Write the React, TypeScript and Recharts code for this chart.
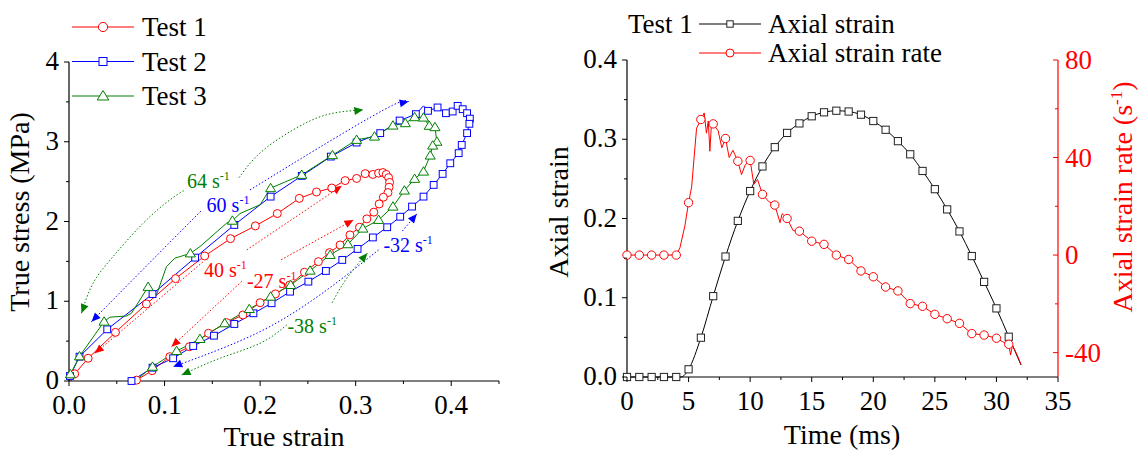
import React from "react";
import { ComposedChart, Line, XAxis, YAxis, ReferenceDot } from "recharts";

const FONT = "Liberation Serif";
const FS = { fontFamily: FONT };
const RED = "#ff0000";
const BLUE = "#0000ff";
const GREEN = "#008000";
const BLACK = "#000000";

// ---------- left panel: [true strain, true stress (MPa), symbol shown 1/0]
const test1 = [
  [0.002, 0, 0], [0.006, 0.09, 1], [0.02, 0.285, 1], [0.0486, 0.61, 1], [0.081, 0.966, 1],
  [0.1115, 1.284, 1], [0.142, 1.568, 1], [0.169, 1.785, 1], [0.195, 1.945, 1], [0.218, 2.1, 1],
  [0.241, 2.29, 1], [0.259, 2.37, 1], [0.275, 2.42, 1], [0.289, 2.513, 1], [0.301, 2.54, 1],
  [0.31, 2.6, 1], [0.318, 2.59, 1], [0.324, 2.606, 1], [0.3285, 2.614, 1], [0.332, 2.59, 1],
  [0.3345, 2.55, 1], [0.3355, 2.49, 1], [0.335, 2.43, 1], [0.3338, 2.363, 1], [0.329, 2.305, 1],
  [0.3246, 2.22, 1], [0.319, 2.117, 1], [0.3117, 2.033, 1], [0.304, 1.928, 1], [0.294, 1.832, 1],
  [0.2837, 1.706, 1], [0.2726, 1.61, 1], [0.261, 1.497, 1], [0.2464, 1.364, 1], [0.231, 1.204, 1],
  [0.216, 1.092, 1], [0.2, 0.982, 1], [0.182, 0.828, 1], [0.165, 0.732, 1], [0.146, 0.598, 1],
  [0.126, 0.43, 1], [0.1055, 0.305, 1], [0.087, 0.13, 1], [0.0706, 0.01, 1],
];
const test2 = [
  [0, 0, 0], [0.001, 0.063, 1], [0.011, 0.305, 1], [0.04, 0.648, 1], [0.0874, 1.09, 1],
  [0.132, 1.547, 1], [0.173, 1.957, 1], [0.211, 2.312, 1], [0.2436, 2.572, 1], [0.274, 2.814, 1],
  [0.301, 2.99, 1], [0.3257, 3.108, 1], [0.346, 3.266, 1], [0.363, 3.346, 1], [0.371, 3.45, 0],
  [0.3757, 3.388, 1], [0.3857, 3.43, 1], [0.3945, 3.358, 1], [0.4015, 3.379, 1], [0.4067, 3.45, 1],
  [0.412, 3.408, 1], [0.4166, 3.358, 1], [0.4195, 3.29, 1], [0.419, 3.225, 1], [0.4166, 3.108, 1],
  [0.411, 2.96, 1], [0.4078, 2.857, 1], [0.399, 2.73, 1], [0.391, 2.597, 1], [0.3816, 2.459, 1],
  [0.371, 2.312, 1], [0.359, 2.187, 1], [0.3466, 2.06, 1], [0.333, 1.928, 1], [0.318, 1.8, 1],
  [0.302, 1.656, 1], [0.286, 1.518, 1], [0.2688, 1.38, 1], [0.2505, 1.246, 1], [0.2313, 1.12, 1],
  [0.212, 0.975, 1], [0.193, 0.849, 1], [0.173, 0.715, 1], [0.1517, 0.568, 1], [0.13, 0.439, 1],
  [0.109, 0.285, 1], [0.0874, 0.167, 1], [0.0654, 0, 1],
];
const test3 = [
  [0, 0, 0], [0.0015, 0.084, 1], [0.011, 0.31, 1], [0.0367, 0.744, 1], [0.0427, 0.8, 0],
  [0.06, 0.815, 0], [0.0654, 0.85, 0], [0.0828, 1.18, 1], [0.0916, 1.08, 0], [0.102, 1.434, 0],
  [0.1108, 1.54, 0], [0.127, 1.6, 1], [0.137, 1.685, 0], [0.165, 1.98, 0], [0.171, 2.01, 1],
  [0.179, 2.1, 0], [0.2, 2.21, 0], [0.211, 2.418, 1], [0.2436, 2.585, 1], [0.2757, 2.832, 1],
  [0.301, 3.024, 1], [0.3197, 3.065, 1], [0.339, 3.203, 1], [0.352, 3.233, 1], [0.3617, 3.308, 1],
  [0.371, 3.303, 1], [0.377, 3.2, 1], [0.383, 3.183, 1], [0.385, 3.0, 1], [0.3806, 2.952, 1],
  [0.378, 2.827, 1], [0.371, 2.626, 1], [0.3617, 2.535, 1], [0.351, 2.388, 1], [0.339, 2.187, 1],
  [0.324, 2.02, 1], [0.3075, 1.911, 1], [0.2918, 1.715, 1], [0.2733, 1.581, 1], [0.2523, 1.384, 1],
  [0.232, 1.204, 1], [0.211, 1.058, 1], [0.1887, 0.903, 1], [0.163, 0.724, 1], [0.137, 0.527, 1],
  [0.1126, 0.376, 1], [0.0874, 0.179, 1], [0.069, 0, 0],
];
const testNames = ["Test 1", "Test 2", "Test 3"];
const rateLabels = ["64", "60", "40", "-27", "-32", "-38"];

const strainTicks = [0, 0.05, 0.1, 0.15, 0.2, 0.25, 0.3, 0.35, 0.4, 0.45];
const strainLabels = ["0.0", "", "0.1", "", "0.2", "", "0.3", "", "0.4", ""];
const stressTicks = [0, 0.5, 1, 1.5, 2, 2.5, 3, 3.5, 4];
const stressLabels = ["0", "", "1", "", "2", "", "3", "", "4"];

// ---------- right panel: Test 1 history
const timeMs = [0, 1, 2, 3, 4, 4.4, 5, 6, 7, 8, 9, 10, 11, 12, 13, 14, 15, 16, 17, 18, 19, 20, 21, 22, 23, 24, 25, 26, 27, 28, 29, 30, 31, 32];
const axialStrain = [0, 0, 0, 0, 0, 0, 0.0097, 0.0496, 0.102, 0.152, 0.197, 0.2346, 0.2657, 0.29, 0.308, 0.32, 0.329, 0.334, 0.336, 0.335, 0.331, 0.323, 0.312, 0.2976, 0.281, 0.26, 0.237, 0.2115, 0.1837, 0.1526, 0.12, 0.0866, 0.0508, 0.015];
const rateTimeMs = [0, 1, 2, 3, 4, 4.3, 4.7, 5, 5.25, 5.65, 6, 6.27, 6.45, 6.6, 6.73, 6.87, 7, 7.4, 7.7, 8, 8.3, 8.6, 9, 9.3, 9.6, 10, 10.3, 10.6, 11, 11.5, 12, 12.43, 12.6, 13, 13.5, 14, 15, 16, 17, 18, 19, 20, 21, 22, 23, 24, 25, 26, 27, 28, 29, 30, 30.5, 31, 31.15, 31.3, 31.6, 32];
const axialStrainRate = [0, 0, 0, 0, 0, 3, 12, 21.5, 28, 52, 55.6, 58.3, 50, 55, 42.6, 55, 53.8, 51, 44, 47.8, 40, 43, 38.5, 33, 37, 38.8, 29, 31, 24.9, 22, 20.5, 13.3, 17, 15, 10, 9.8, 5.7, 4.4, 0, -1.8, -6.5, -8.9, -13.1, -14.7, -19.9, -21, -24.3, -26.1, -28, -32.2, -32.8, -34.1, -35.5, -36.6, -41, -37, -40, -44.8];
const rightNames = ["Test 1", "Axial strain", "Axial strain rate"];

const timeTicks = [0, 2.5, 5, 7.5, 10, 12.5, 15, 17.5, 20, 22.5, 25, 27.5, 30, 32.5, 35];
const timeLabels = ["0", "", "5", "", "10", "", "15", "", "20", "", "25", "", "30", "", "35"];
const axTicks = [0, 0.05, 0.1, 0.15, 0.2, 0.25, 0.3, 0.35, 0.4];
const axLabels = ["0.0", "", "0.1", "", "0.2", "", "0.3", "", "0.4"];
const rateTicks = [-40, -20, 0, 20, 40, 60, 80];
const rateTickLabels = ["-40", "", "0", "", "40", "", "80"];

// ---------- annotation layout (data coordinates of the left panel)
const rateLabelAt = [
  { x: 0.1234, y: 2.42, color: GREEN },
  { x: 0.144, y: 2.12, color: BLUE },
  { x: 0.1412, y: 1.305, color: RED },
  { x: 0.1862, y: 1.17, color: RED },
  { x: 0.329, y: 1.62, color: BLUE },
  { x: 0.2286, y: 0.6, color: GREEN },
];
const arrows = [
  { color: GREEN, segs: [[[0.013, 0.85], [0.0252, 1.226], [0.0461, 1.56], [0.0776, 1.979], [0.1056, 2.271], [0.1213, 2.396]], [[0.178, 2.55], [0.2, 2.86], [0.2345, 3.149], [0.27, 3.34], [0.308, 3.4]]] },
  { color: BLUE, segs: [[[0.0235, 0.744], [0.08, 1.43], [0.138, 2.13]], [[0.1894, 2.396], [0.2348, 2.73], [0.287, 3.108], [0.3396, 3.463], [0.3555, 3.504]]] },
  { color: RED, segs: [[[0.027, 0.347], [0.1405, 1.497]], [[0.186, 1.644], [0.2855, 2.447]]] },
  { color: RED, segs: [[[0.1073, 0.43], [0.1824, 1.267]], [[0.222, 1.52], [0.2977, 2.02]]] },
  { color: BLUE, segs: [[[0.364, 2.095], [0.3484, 1.874]], [[0.324, 1.644], [0.2698, 1.142], [0.1999, 0.619], [0.109, 0.178]]] },
  { color: GREEN, segs: [[[0.3122, 1.602], [0.3, 1.434], [0.2872, 1.226], [0.275, 0.975]], [[0.2279, 0.703], [0.1999, 0.473], [0.158, 0.285], [0.1178, 0.075]]] },
];

const PX_X = 430 / 0.45;
const PX_Y = 319 / 4;

type Shape = "circle" | "square" | "triangle";

const Sym = ({ shape, cx, cy, color, size }: { shape: Shape; cx: number; cy: number; color: string; size: number }) => {
  if (shape === "circle") return <circle cx={cx} cy={cy} r={size} fill="#fff" stroke={color} strokeWidth={1} />;
  if (shape === "square")
    return <rect x={cx - size} y={cy - size} width={size * 2} height={size * 2} fill="#fff" stroke={color} strokeWidth={1} />;
  const pts = `${cx},${cy - size * 1.1} ${cx - size * 1.15},${cy + size * 0.8} ${cx + size * 1.15},${cy + size * 0.8}`;
  return <polygon points={pts} fill="#fff" stroke={color} strokeWidth={1} />;
};

const symbolDot = (shape: Shape, color: string, size: number, show: (d: any) => boolean) => (p: any) => {
  const { cx, cy, payload, index } = p;
  if (cx == null || cy == null || !show(payload)) return <g key={`s${index}`} />;
  return (
    <g key={`s${index}`}>
      <Sym shape={shape} cx={cx} cy={cy} color={color} size={size} />
    </g>
  );
};

const arrowDot = (seg: number[][], color: string, head: "start" | "end") => (p: any) => {
  const n = seg.length;
  const { cx, cy, index, points } = p;
  const atStart = head === "start" && index === 0;
  const atEnd = head === "end" && index === n - 1;
  if ((!atStart && !atEnd) || cx == null) return <g key={`a${index}`} />;
  const j = atStart ? 1 : n - 2;
  let dx: number;
  let dy: number;
  if (points && points[j]) {
    dx = cx - points[j].x;
    dy = cy - points[j].y;
  } else {
    dx = (seg[index][0] - seg[j][0]) * PX_X;
    dy = -(seg[index][1] - seg[j][1]) * PX_Y;
  }
  const L = Math.hypot(dx, dy) || 1;
  const ux = dx / L;
  const uy = dy / L;
  const bx = cx - ux * 9;
  const by = cy - uy * 9;
  const pts = `${cx},${cy} ${bx - uy * 4},${by + ux * 4} ${bx + uy * 4},${by - ux * 4}`;
  return <polygon key={`a${index}`} points={pts} fill={color} />;
};

const makeTick = (side: "bottom" | "left" | "right", ticks: number[], labels: string[], color = BLACK) => (props: any) => {
  const { x, y, payload } = props;
  const i = ticks.indexOf(payload.value);
  const label = i >= 0 ? labels[i] : "";
  const len = label ? 5 : 3;
  const txt = { fontFamily: FONT, fontSize: 27, fill: color, style: FS };
  if (side === "bottom")
    return (
      <g>
        <line x1={x} x2={x} y1={y} y2={y + len} stroke={color} strokeWidth={1} />
        {label && <text x={x} y={y + 33} textAnchor="middle" {...txt}>{label}</text>}
      </g>
    );
  if (side === "left")
    return (
      <g>
        <line x1={x - len} x2={x} y1={y} y2={y} stroke={color} strokeWidth={1} />
        {label && <text x={x - 10} y={y + 8} textAnchor="end" {...txt}>{label}</text>}
      </g>
    );
  return (
    <g>
      <line x1={x - len} x2={x} y1={y} y2={y} stroke={color} strokeWidth={1} />
      {label && <text x={x + 7} y={y + 9} textAnchor="start" {...txt}>{label}</text>}
    </g>
  );
};

const toXY = (arr: number[][]) => arr.map(([x, y, m]) => ({ x, y, m }));

const leftSeries = [
  { name: testNames[0], data: toXY(test1), color: RED, shape: "circle" as Shape, size: 4 },
  { name: testNames[1], data: toXY(test2), color: BLUE, shape: "square" as Shape, size: 3.4 },
  { name: testNames[2], data: toXY(test3), color: GREEN, shape: "triangle" as Shape, size: 4.4 },
];

const axialData = timeMs.map((t, i) => ({ x: t, y: axialStrain[i] }));
const rateData = rateTimeMs.map((t, i) => ({ x: t, y: axialStrainRate[i] }));
const onSecond = (d: any) => Number.isInteger(d.x) && d.x <= 31;

const axisStyle = { stroke: BLACK, strokeWidth: 1.2 };

export default function App() {
  return (
    <div style={{ position: "absolute", left: 0, top: 0, width: 1141, height: 451, background: "#fff" }}>
      <div style={{ position: "absolute", left: 0, top: 0 }}>
        <ComposedChart width={560} height={451} margin={{ top: 62, right: 61, bottom: 0, left: 0 }}>
          <XAxis
            dataKey="x"
            type="number"
            domain={[0, 0.45]}
            ticks={strainTicks}
            interval={0}
            height={70}
            tickSize={0}
            tickMargin={0}
            tickLine={false}
            axisLine={axisStyle}
            tick={makeTick("bottom", strainTicks, strainLabels)}
          />
          <YAxis
            type="number"
            domain={[0, 4]}
            ticks={stressTicks}
            interval={0}
            width={69}
            tickSize={0}
            tickMargin={0}
            tickLine={false}
            axisLine={axisStyle}
            tick={makeTick("left", stressTicks, stressLabels)}
          />
          {arrows.map((a, k) =>
            a.segs.map((seg, j) => (
              <Line
                key={`arrow-${k}-${j}`}
                data={seg.map(([x, y]) => ({ x, y }))}
                dataKey="y"
                type="natural"
                stroke={a.color}
                strokeWidth={1}
                strokeDasharray="1.5 2"
                dot={arrowDot(seg, a.color, j === 0 ? "start" : "end")}
                activeDot={false}
                legendType="none"
                isAnimationActive={false}
              />
            ))
          )}
          {leftSeries.map((s) => (
            <Line
              key={s.name}
              name={s.name}
              data={s.data}
              dataKey="y"
              type="linear"
              stroke={s.color}
              strokeWidth={1}
              dot={symbolDot(s.shape, s.color, s.size, (d) => d.m === 1)}
              activeDot={false}
              isAnimationActive={false}
            />
          ))}
          {rateLabelAt.map((r, i) => (
            <ReferenceDot
              key={`rl${i}`}
              x={r.x}
              y={r.y}
              r={0}
              ifOverflow="visible"
              shape={(p: any) => (
                <text x={p.cx} y={p.cy} fill={r.color} fontFamily={FONT} style={FS} fontSize={20}>
                  {rateLabels[i]} s<tspan dy={-8} fontSize={12}>-1</tspan>
                </text>
              )}
            />
          ))}
        </ComposedChart>
      </div>

      <div style={{ position: "absolute", left: 560, top: 0 }}>
        <ComposedChart width={581} height={451} margin={{ top: 60, right: 0, bottom: 0, left: 0 }}>
          <XAxis
            dataKey="x"
            type="number"
            domain={[0, 35]}
            ticks={timeTicks}
            interval={0}
            height={74}
            tickSize={0}
            tickMargin={0}
            tickLine={false}
            axisLine={axisStyle}
            tick={makeTick("bottom", timeTicks, timeLabels)}
          />
          <YAxis
            yAxisId="s"
            orientation="left"
            type="number"
            domain={[0, 0.4]}
            ticks={axTicks}
            interval={0}
            width={67}
            tickSize={0}
            tickMargin={0}
            tickLine={false}
            axisLine={axisStyle}
            tick={makeTick("left", axTicks, axLabels)}
          />
          <YAxis
            yAxisId="r"
            orientation="right"
            type="number"
            domain={[-50, 80]}
            ticks={rateTicks}
            interval={0}
            width={83}
            tickSize={0}
            tickMargin={0}
            tickLine={false}
            axisLine={{ stroke: RED, strokeWidth: 1.2 }}
            tick={makeTick("right", rateTicks, rateTickLabels, RED)}
          />
          <Line
            yAxisId="s"
            name={rightNames[1]}
            data={axialData}
            dataKey="y"
            type="monotone"
            stroke={BLACK}
            strokeWidth={1}
            dot={symbolDot("square", "#222", 3.6, onSecond)}
            activeDot={false}
            isAnimationActive={false}
          />
          <Line
            yAxisId="r"
            name={rightNames[2]}
            data={rateData}
            dataKey="y"
            type="linear"
            stroke={RED}
            strokeWidth={1}
            dot={symbolDot("circle", RED, 4.2, onSecond)}
            activeDot={false}
            isAnimationActive={false}
          />
        </ComposedChart>
      </div>

      <svg width={1141} height={451} style={{ position: "absolute", left: 0, top: 0, pointerEvents: "none" }}>
        {leftSeries.map((s, i) => {
          const y = 27 + i * 34.5;
          return (
            <g key={s.name}>
              <line x1={72} x2={134} y1={y} y2={y} stroke={s.color} strokeWidth={1.2} />
              <Sym shape={s.shape} cx={103} cy={y} color={s.color} size={s.size + 0.6} />
              <text x={142} y={y + 9} fill={BLACK} fontFamily={FONT} style={FS} fontSize={27}>{s.name}</text>
            </g>
          );
        })}
        <text x={628} y={33} fill={BLACK} fontFamily={FONT} style={FS} fontSize={27}>{rightNames[0]}</text>
        <line x1={699} x2={761} y1={24} y2={24} stroke={BLACK} strokeWidth={1.2} />
        <Sym shape="square" cx={730} cy={24} color="#222" size={3.2} />
        <text x={768} y={33} fill={BLACK} fontFamily={FONT} style={FS} fontSize={27}>{rightNames[1]}</text>
        <line x1={699} x2={761} y1={53} y2={53} stroke={RED} strokeWidth={1.2} />
        <Sym shape="circle" cx={730} cy={53} color={RED} size={4} />
        <text x={768} y={62} fill={BLACK} fontFamily={FONT} style={FS} fontSize={27}>{rightNames[2]}</text>

        <text transform="translate(29,212) rotate(-90)" textAnchor="middle" fill={BLACK} fontFamily={FONT} style={FS} fontSize={28}>
          True stress (MPa)
        </text>
        <text x={284} y={446} textAnchor="middle" fill={BLACK} fontFamily={FONT} style={FS} fontSize={28}>True strain</text>
        <text x={842} y={444} textAnchor="middle" fill={BLACK} fontFamily={FONT} style={FS} fontSize={28}>Time (ms)</text>
        <text transform="translate(568,212) rotate(-90)" textAnchor="middle" fill={BLACK} fontFamily={FONT} style={FS} fontSize={28}>
          Axial strain
        </text>
        <text transform="translate(1132,197) rotate(-90)" textAnchor="middle" fill={RED} fontFamily={FONT} style={FS} fontSize={28}>
          Axial strain rate (s<tspan dy={-10} fontSize={17}>-1</tspan><tspan dy={10}>)</tspan>
        </text>
      </svg>
    </div>
  );
}
